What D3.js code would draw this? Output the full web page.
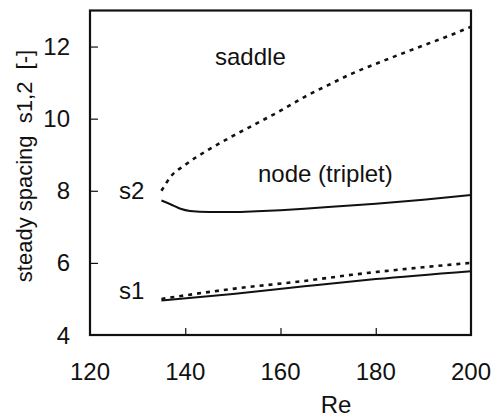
<!DOCTYPE html>
<html>
<head>
<meta charset="utf-8">
<script src="https://cdn.jsdelivr.net/npm/d3@7/dist/d3.min.js"></script>
<style>
  html, body { margin: 0; padding: 0; background: #fff; }
  text { font-family: "Liberation Sans", Arial, sans-serif; fill: #111; }
</style>
</head>
<body>
<svg id="chart" width="491" height="418"></svg>
<script>
// Steady spacing of the s1 and s2 branches versus Reynolds number
const xTicks = [120, 140, 160, 180, 200];
const yTicks = [4, 6, 8, 10, 12];

// upper branch (s2)
const s2SaddleRe  = [135, 137, 140, 145, 150, 155, 160, 165, 170, 175, 180, 185, 190, 195, 200];
const s2SaddleVal = [8.0, 8.4, 8.72, 9.15, 9.52, 9.87, 10.22, 10.6, 10.93, 11.25, 11.52, 11.78, 12.03, 12.28, 12.55];
const s2NodeRe    = [135, 137, 139, 141, 145, 150, 155, 160, 165, 170, 180, 190, 200];
const s2NodeVal   = [7.73, 7.62, 7.5, 7.44, 7.41, 7.41, 7.43, 7.46, 7.5, 7.55, 7.64, 7.75, 7.88];

// lower branch (s1)
const s1SaddleRe  = [135, 140, 150, 165, 175, 190, 200];
const s1SaddleVal = [5.0, 5.1, 5.28, 5.5, 5.67, 5.88, 6.0];
const s1NodeRe    = [135, 150, 165, 180, 200];
const s1NodeVal   = [4.96, 5.14, 5.35, 5.55, 5.77];

const svg = d3.select("#chart");
const x = d3.scaleLinear().domain([120, 200]).range([90, 471]);
const y = d3.scaleLinear().domain([4, 13]).range([335, 10.5]);

// inward tick marks
const xAxis = d3.axisTop(x).tickValues(xTicks.slice(1, -1)).tickSize(7).tickFormat("");
const yAxis = d3.axisRight(y).tickValues(yTicks.slice(1)).tickSize(8).tickFormat("");
svg.append("g").attr("transform", `translate(0,${y(4)})`).call(xAxis)
  .call(g => g.select(".domain").remove())
  .selectAll("line").attr("stroke", "#111").attr("stroke-width", 1.2);
svg.append("g").attr("transform", `translate(${x(120)},0)`).call(yAxis)
  .call(g => g.select(".domain").remove())
  .selectAll("line").attr("stroke", "#111").attr("stroke-width", 1.2);

// frame
svg.append("rect")
  .attr("x", x(120)).attr("y", y(13))
  .attr("width", x(200) - x(120)).attr("height", y(4) - y(13))
  .attr("fill", "none").attr("stroke", "#111").attr("stroke-width", 2.2);

// tick labels
svg.append("g").selectAll("text").data(xTicks).join("text")
  .attr("x", d => x(d)).attr("y", 380)
  .attr("text-anchor", "middle").attr("font-size", 24)
  .text(d => d);
svg.append("g").selectAll("text").data(yTicks).join("text")
  .attr("x", 70).attr("y", d => y(d) + 8.5)
  .attr("text-anchor", "end").attr("font-size", 24)
  .text(d => d);

// axis titles
svg.append("text").attr("x", 336).attr("y", 413)
  .attr("text-anchor", "middle").attr("font-size", 24).text("Re");
svg.append("text")
  .attr("transform", "translate(32,166) rotate(-90)")
  .attr("text-anchor", "middle").attr("font-size", 22)
  .style("white-space", "pre")
  .text("steady spacing  s1,2  [-]");

// curves
const line = d3.line().x(d => x(d[0])).y(d => y(d[1])).curve(d3.curveMonotoneX);
const zip = (a, b) => a.map((v, i) => [v, b[i]]);
const curves = [
  { pts: zip(s2SaddleRe, s2SaddleVal), dash: "4,5" },
  { pts: zip(s2NodeRe, s2NodeVal), dash: null },
  { pts: zip(s1SaddleRe, s1SaddleVal), dash: "4,5" },
  { pts: zip(s1NodeRe, s1NodeVal), dash: null }
];
svg.append("g").selectAll("path").data(curves).join("path")
  .attr("d", d => line(d.pts))
  .attr("fill", "none").attr("stroke", "#111")
  .attr("stroke-width", d => d.dash ? 2.6 : 2)
  .attr("stroke-dasharray", d => d.dash);

// region and branch labels
const labels = [
  { t: "saddle", x: 215, y: 65 },
  { t: "node (triplet)", x: 258, y: 182 },
  { t: "s2", x: 119, y: 199 },
  { t: "s1", x: 119, y: 299 }
];
svg.append("g").selectAll("text").data(labels).join("text")
  .attr("x", d => d.x).attr("y", d => d.y).attr("font-size", 24)
  .text(d => d.t);
</script>
</body>
</html>
